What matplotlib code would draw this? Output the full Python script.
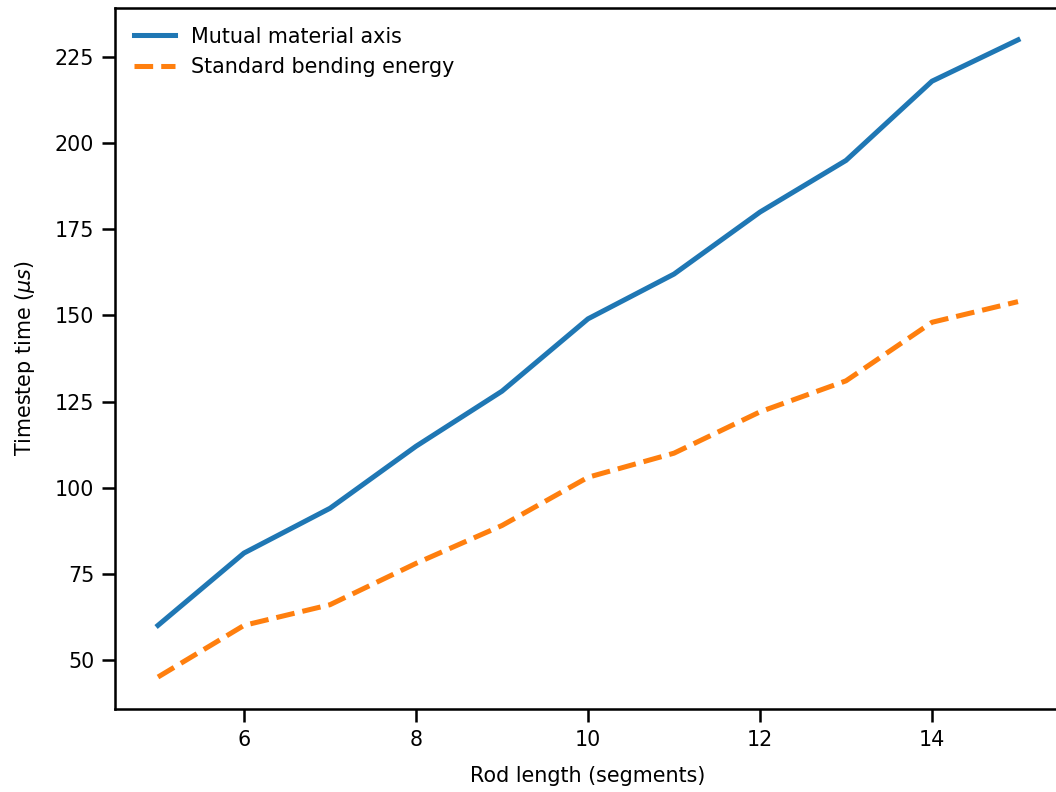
import numpy as np
import matplotlib.pyplot as plt

# rod lengths and measured timestep times (microseconds)
rod_length = [5, 6, 7, 8, 9, 10, 11, 12, 13, 14, 15]
mutual_axis = [60, 81, 94, 112, 128, 149, 162, 180, 195, 218, 230]
standard_bending = [45, 60, 66, 78, 89, 103, 110, 122, 131, 148, 154]

plt.rcParams['font.size'] = 9

fig = plt.figure(figsize=(6.4, 4.8), dpi=165)
ax = fig.add_axes([115 / 1056, 1 - 708 / 791, 946 / 1056, 700 / 791])

ax.plot(rod_length, mutual_axis, color='#1f77b4', linewidth=2.2,
        label='Mutual material axis')
ax.plot(rod_length, standard_bending, color='#ff7f0e', linewidth=2.2,
        linestyle='--', label='Standard bending energy')

ax.set_xlim(4.5, 15.5)
ax.set_yticks(np.arange(50, 226, 25))
ax.set_xlabel('Rod length (segments)', labelpad=7)
ax.set_ylabel(r'Timestep time ($\mu s$)', labelpad=8)
for s in ax.spines.values():
    s.set_linewidth(1.1)
ax.tick_params(width=1.1, length=5.5)
ax.legend(loc='upper left', frameon=False)

fig.savefig('out.png', dpi=165)
